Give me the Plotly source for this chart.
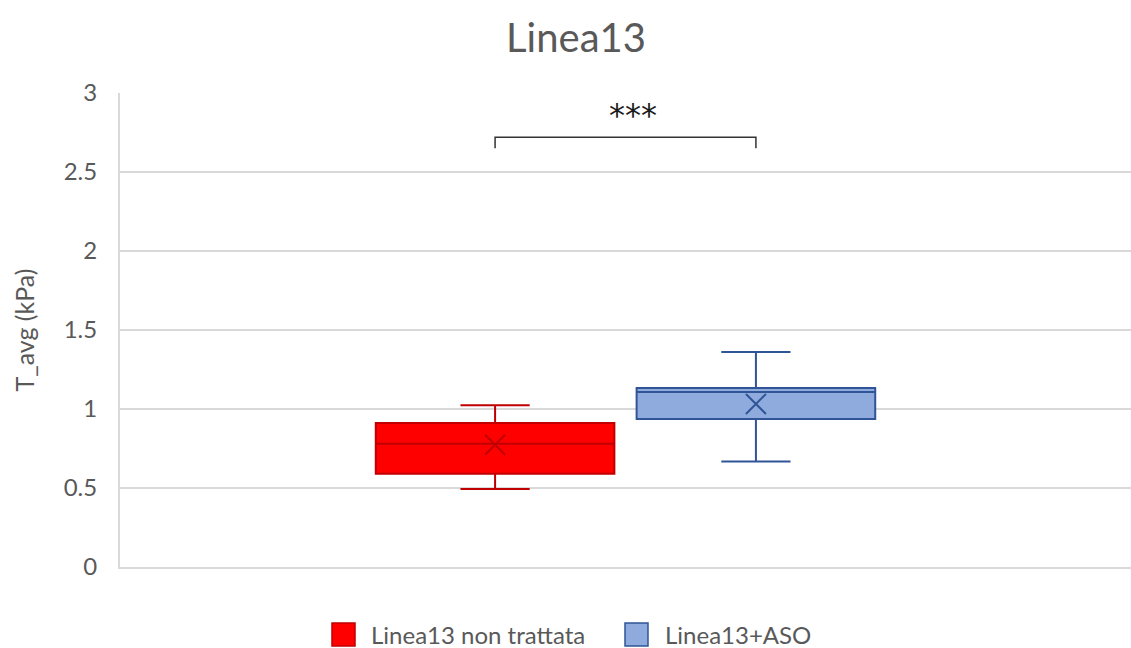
import plotly.graph_objects as go

# Box statistics per series (T_avg, kPa)
series_names = ["Linea13 non trattata", "Linea13+ASO"]
lower_whisker = [0.494, 0.667]
q1 = [0.590, 0.937]
median = [0.780, 1.108]
q3 = [0.911, 1.133]
upper_whisker = [1.023, 1.361]
mean = [0.774, 1.032]

y_ticks = [0, 0.5, 1, 1.5, 2, 2.5, 3]
significance = "***"
bracket_level = 2.72

# Styling
fill_colors = ["#FF0000", "#8FAADC"]
line_colors = ["#C00000", "#2F5597"]
offsets = [-0.129, 0.129]      # position of each series inside the single category
box_width = 0.236
text_color = "#595959"
grid_color = "#D9D9D9"
font_family = "Lato"

W, H = 1131, 648
margin = dict(l=120, r=0, t=93, b=81)
plot_w = W - margin["l"] - margin["r"]
plot_h = H - margin["t"] - margin["b"]


def px_to_paper(px, py):
    return (px - margin["l"]) / plot_w, (H - margin["b"] - py) / plot_h


fig = go.Figure()

for i, name in enumerate(series_names):
    fig.add_trace(go.Box(
        name=name,
        x=[offsets[i]],
        q1=[q1[i]], median=[median[i]], q3=[q3[i]],
        lowerfence=[lower_whisker[i]], upperfence=[upper_whisker[i]],
        width=box_width,
        whiskerwidth=0.29,
        fillcolor=fill_colors[i],
        line=dict(color=line_colors[i], width=2),
        boxpoints=False,
        showlegend=False,
        hoverinfo="skip",
    ))
    # mean marker
    fig.add_trace(go.Scatter(
        x=[offsets[i]], y=[mean[i]],
        mode="markers",
        marker=dict(symbol="x-thin", size=20,
                    line=dict(color=line_colors[i], width=2)),
        showlegend=False,
        hoverinfo="skip",
    ))

# significance bracket between the two boxes
drop = 0.07
fig.add_shape(type="path",
              path=(f"M {offsets[0]} {bracket_level - drop} L {offsets[0]} {bracket_level} "
                    f"L {offsets[1]} {bracket_level} L {offsets[1]} {bracket_level - drop}"),
              xref="x", yref="y", line=dict(color="#333333", width=1.5))
fig.add_annotation(x=(offsets[0] + offsets[1]) / 2 + 0.007, y=bracket_level + 0.005,
                   xref="x", yref="y", yanchor="bottom", text=significance,
                   showarrow=False,
                   font=dict(family="DejaVu Sans", size=32, color="#1A1A1A"))

# legend drawn along the bottom edge
legend_items = [(332, 369), (625, 663)]
for i, name in enumerate(series_names):
    sq_left, txt_left = legend_items[i]
    x0, y0 = px_to_paper(sq_left, 646)
    x1, y1 = px_to_paper(sq_left + 23, 623)
    fig.add_shape(type="rect", xref="paper", yref="paper",
                  x0=x0, y0=y0, x1=x1, y1=y1,
                  fillcolor=fill_colors[i],
                  line=dict(color=line_colors[i], width=1.5))
    tx, ty = px_to_paper(txt_left, 634)
    fig.add_annotation(x=tx, y=ty, xref="paper", yref="paper",
                       xanchor="left", yanchor="middle", text=name,
                       showarrow=False,
                       font=dict(family=font_family, size=24, color=text_color))

fig.update_layout(
    width=W, height=H,
    margin=margin,
    paper_bgcolor="white",
    plot_bgcolor="white",
    font=dict(family=font_family, color=text_color),
    title=dict(text="Linea13", x=576 / W, xanchor="center",
               y=1 - 38 / H, yanchor="middle", yref="container",
               font=dict(family=font_family, size=40, color=text_color)),
    xaxis=dict(range=[-0.5, 0.5], showticklabels=False, showgrid=False,
               zeroline=False, showline=True, linecolor=grid_color, linewidth=2,
               fixedrange=True),
    yaxis=dict(range=[0, 3], tickvals=y_ticks, showgrid=True,
               gridcolor=grid_color, gridwidth=2, zeroline=False,
               showline=True, linecolor=grid_color, linewidth=2,
               ticks="", ticklabelstandoff=16,
               tickfont=dict(family=font_family, size=24, color=text_color),
               title=dict(text="T_avg (kPa)", standoff=22,
                          font=dict(family=font_family, size=25, color=text_color))),
)

fig.write_html("out.html")
